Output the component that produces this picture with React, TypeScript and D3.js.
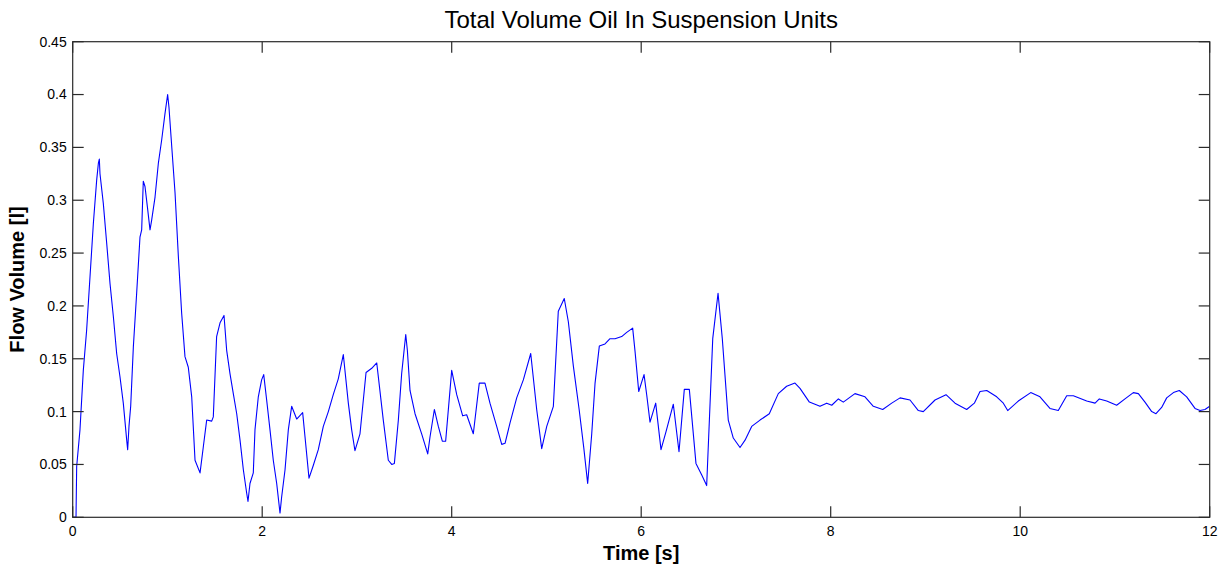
import React from "react";
import * as d3 from "d3";

const titleText = "Total Volume Oil In Suspension Units";
const xLabel = "Time [s]";
const yLabel = "Flow Volume [l]";
const xTicks = [0, 2, 4, 6, 8, 10, 12];
const yTicks = [0, 0.05, 0.1, 0.15, 0.2, 0.25, 0.3, 0.35, 0.4, 0.45];

const time = [
  0.0, 0.035, 0.042, 0.077, 0.112, 0.147, 0.183, 0.218, 0.253, 0.271, 0.281, 0.288, 0.323, 0.359, 0.394, 0.429,
  0.464, 0.499, 0.534, 0.57, 0.58, 0.594, 0.612, 0.64, 0.675, 0.71, 0.728, 0.745, 0.763, 0.788, 0.816, 0.833,
  0.869, 0.904, 0.939, 0.974, 1.002, 1.016, 1.045, 1.08, 1.115, 1.15, 1.185, 1.22, 1.256, 1.291, 1.344, 1.379,
  1.414, 1.467, 1.484, 1.519, 1.555, 1.597, 1.625, 1.66, 1.695, 1.731, 1.766, 1.801, 1.836, 1.85, 1.871, 1.906,
  1.924, 1.959, 1.994, 2.016, 2.047, 2.082, 2.117, 2.153, 2.188, 2.205, 2.241, 2.276, 2.311, 2.364, 2.427, 2.452,
  2.494, 2.539, 2.592, 2.645, 2.698, 2.75, 2.803, 2.856, 2.909, 2.944, 2.979, 3.032, 3.096, 3.156, 3.209, 3.278,
  3.331, 3.367, 3.395, 3.437, 3.472, 3.515, 3.532, 3.56, 3.613, 3.683, 3.747, 3.771, 3.817, 3.859, 3.901, 3.936,
  4.0, 4.053, 4.116, 4.158, 4.228, 4.291, 4.351, 4.404, 4.475, 4.528, 4.563, 4.615, 4.686, 4.756, 4.834, 4.897,
  4.95, 5.003, 5.073, 5.125, 5.188, 5.231, 5.284, 5.345, 5.395, 5.435, 5.478, 5.513, 5.558, 5.618, 5.671, 5.724,
  5.794, 5.847, 5.91, 5.935, 5.974, 6.03, 6.058, 6.093, 6.153, 6.209, 6.262, 6.339, 6.399, 6.455, 6.508, 6.578,
  6.639, 6.691, 6.755, 6.811, 6.856, 6.919, 6.972, 7.043, 7.096, 7.166, 7.254, 7.352, 7.447, 7.535, 7.623, 7.676,
  7.775, 7.887, 7.958, 8.011, 8.081, 8.133, 8.256, 8.362, 8.45, 8.549, 8.644, 8.732, 8.837, 8.925, 8.977, 9.101,
  9.217, 9.312, 9.435, 9.516, 9.576, 9.647, 9.752, 9.822, 9.868, 9.98, 10.111, 10.209, 10.314, 10.402, 10.491,
  10.561, 10.702, 10.79, 10.835, 10.913, 11.018, 11.106, 11.194, 11.247, 11.317, 11.388, 11.433, 11.493, 11.546,
  11.617, 11.679, 11.757, 11.845, 11.898, 11.95, 12.0,
];

const volume = [
  0, 0, 0.048, 0.083, 0.139, 0.177, 0.228, 0.278, 0.319, 0.335, 0.339, 0.325, 0.297, 0.259, 0.221, 0.19,
  0.155, 0.133, 0.108, 0.073, 0.064, 0.086, 0.105, 0.161, 0.212, 0.265, 0.272, 0.318, 0.313, 0.294, 0.272, 0.281,
  0.303, 0.335, 0.357, 0.382, 0.4, 0.388, 0.351, 0.307, 0.247, 0.193, 0.152, 0.142, 0.114, 0.054, 0.042, 0.067,
  0.092, 0.091, 0.095, 0.171, 0.184, 0.191, 0.158, 0.136, 0.117, 0.098, 0.073, 0.045, 0.023, 0.015, 0.032, 0.042,
  0.083, 0.114, 0.13, 0.135, 0.111, 0.083, 0.054, 0.032, 0.004, 0.019, 0.045, 0.083, 0.105, 0.093, 0.099, 0.076,
  0.037, 0.049, 0.064, 0.086, 0.1, 0.116, 0.131, 0.154, 0.108, 0.083, 0.063, 0.079, 0.137, 0.141, 0.146, 0.092,
  0.054, 0.05, 0.051, 0.092, 0.136, 0.173, 0.158, 0.12, 0.098, 0.079, 0.06, 0.076, 0.102, 0.086, 0.072, 0.072,
  0.139, 0.116, 0.096, 0.097, 0.079, 0.127, 0.127, 0.108, 0.086, 0.069, 0.07, 0.089, 0.113, 0.13, 0.155, 0.102,
  0.065, 0.086, 0.105, 0.195, 0.207, 0.185, 0.143, 0.102, 0.065, 0.032, 0.079, 0.127, 0.162, 0.164, 0.169, 0.169,
  0.171, 0.175, 0.179, 0.157, 0.119, 0.135, 0.116, 0.09, 0.108, 0.064, 0.081, 0.107, 0.062, 0.121, 0.121, 0.051,
  0.04, 0.03, 0.169, 0.212, 0.169, 0.092, 0.075, 0.066, 0.073, 0.086, 0.092, 0.098, 0.117, 0.124, 0.127, 0.122,
  0.109, 0.105, 0.108, 0.106, 0.112, 0.109, 0.117, 0.114, 0.105, 0.102, 0.108, 0.113, 0.111, 0.101, 0.1, 0.111,
  0.116, 0.108, 0.102, 0.108, 0.119, 0.12, 0.114, 0.108, 0.101, 0.11, 0.118, 0.114, 0.103, 0.101, 0.115,
  0.115, 0.11, 0.108, 0.112, 0.11, 0.106, 0.112, 0.118, 0.117, 0.109, 0.1, 0.098, 0.104, 0.113,
  0.118, 0.12, 0.114, 0.103, 0.101, 0.102, 0.105,
];

const W = 1225;
const H = 569;
const left = 72.7;
const right = 1209.7;
const top = 41.7;
const bottom = 517.3;
const tickLen = 11;
const font = "'Liberation Sans', Arial, Helvetica, sans-serif";
const axisColor = "#2b2b2b";

export default function App() {
  const x = d3.scaleLinear().domain([0, 12]).range([left, right]);
  const y = d3.scaleLinear().domain([0, 0.45]).range([bottom, top]);
  const pts: [number, number][] = time.map((t, i) => [t, volume[i]]);
  const line = d3
    .line<[number, number]>()
    .x((d) => x(d[0]))
    .y((d) => y(d[1]));
  const fmt = (v: number) => String(+v.toFixed(2));

  return (
    <div style={{ position: "fixed", left: 0, top: 0 }}>
      <svg width={W} height={H} style={{ display: "block", background: "#fff" }}>
        <rect x={0} y={0} width={W} height={H} fill="#fff" />
        <defs>
          <clipPath id="plotclip">
            <rect x={left} y={top - 1} width={right - left} height={bottom - top + 2} />
          </clipPath>
        </defs>
        <path
          d={line(pts) || ""}
          fill="none"
          stroke="#0000ff"
          strokeWidth={1.1}
          strokeLinejoin="round"
          clipPath="url(#plotclip)"
        />
        <rect
          x={left}
          y={top}
          width={right - left}
          height={bottom - top}
          fill="none"
          stroke={axisColor}
          strokeWidth={1.2}
        />
        {xTicks.map((t) => (
          <g key={"xt" + t}>
            <line x1={x(t)} x2={x(t)} y1={bottom} y2={bottom - tickLen} stroke={axisColor} strokeWidth={1.2} />
            <line x1={x(t)} x2={x(t)} y1={top} y2={top + tickLen} stroke={axisColor} strokeWidth={1.2} />
            <text
              x={x(t)}
              y={bottom + 19}
              textAnchor="middle"
              fontFamily={font}
              fontSize={14}
              fill="#000"
            >
              {fmt(t)}
            </text>
          </g>
        ))}
        {yTicks.map((t) => (
          <g key={"yt" + t}>
            <line x1={left} x2={left + tickLen} y1={y(t)} y2={y(t)} stroke={axisColor} strokeWidth={1.2} />
            <line x1={right} x2={right - tickLen} y1={y(t)} y2={y(t)} stroke={axisColor} strokeWidth={1.2} />
            <text
              x={left - 6}
              y={y(t)}
              dy="0.35em"
              textAnchor="end"
              fontFamily={font}
              fontSize={14}
              fill="#000"
            >
              {fmt(t)}
            </text>
          </g>
        ))}
        <text
          x={(left + right) / 2}
          y={28}
          textAnchor="middle"
          fontFamily={font}
          fontSize={24}
          fill="#000"
        >
          {titleText}
        </text>
        <text
          x={(left + right) / 2}
          y={560}
          textAnchor="middle"
          fontFamily={font}
          fontSize={20}
          fontWeight="bold"
          fill="#000"
        >
          {xLabel}
        </text>
        <text
          transform={`translate(24, ${(top + bottom) / 2}) rotate(-90)`}
          textAnchor="middle"
          fontFamily={font}
          fontSize={20}
          fontWeight="bold"
          fill="#000"
        >
          {yLabel}
        </text>
      </svg>
    </div>
  );
}
